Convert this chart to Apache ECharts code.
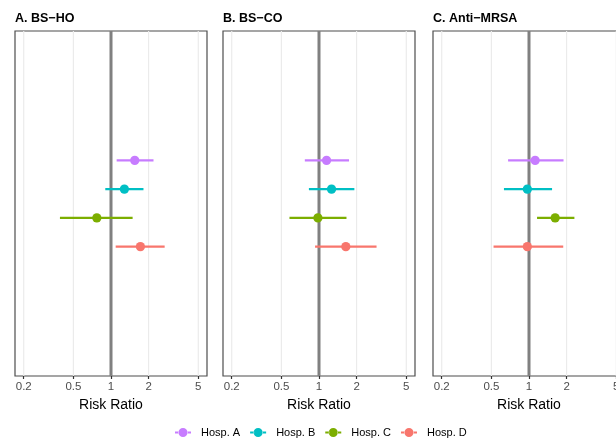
<!DOCTYPE html>
<html><head><meta charset="utf-8">
<script src="https://cdn.jsdelivr.net/npm/echarts@6/dist/echarts.min.js"></script>
<style>html,body{margin:0;padding:0;background:#fff}#c{width:616px;height:440px}</style>
</head><body><div id="c"></div>
<script>
const hospitals = ['Hosp. A', 'Hosp. B', 'Hosp. C', 'Hosp. D'];
const hospColors = ['#C77CFF', '#00BFC4', '#7CAE00', '#F8766D'];
const panelTitles = ['A. BS\u2212HO', 'B. BS\u2212CO', 'C. Anti\u2212MRSA'];
const xTicks = [0.2, 0.5, 1, 2, 5];
const refValue = 1;
const xName = 'Risk Ratio';

// Panel A: BS-HO
const bsho_est = [1.55, 1.28, 0.77, 1.72];
const bsho_lo  = [1.11, 0.90, 0.39, 1.09];
const bsho_hi  = [2.19, 1.82, 1.49, 2.69];
// Panel B: BS-CO
const bsco_est = [1.15, 1.26, 0.98, 1.64];
const bsco_lo  = [0.77, 0.83, 0.58, 0.93];
const bsco_hi  = [1.74, 1.92, 1.66, 2.89];
// Panel C: Anti-MRSA
const mrsa_est = [1.12, 0.97, 1.62, 0.97];
const mrsa_lo  = [0.68, 0.63, 1.16, 0.52];
const mrsa_hi  = [1.89, 1.53, 2.31, 1.88];

const panels = [
  {est: bsho_est, lo: bsho_lo, hi: bsho_hi},
  {est: bsco_est, lo: bsco_lo, hi: bsco_hi},
  {est: mrsa_est, lo: mrsa_lo, hi: mrsa_hi}
];

const FONT = '"Liberation Sans", Arial, sans-serif';
const gridLefts = [15, 223, 433];
const gridW = 192;
const expand = Math.pow(10, 0.05 * Math.log10(5 / 0.2));
const xMin = 0.2 / expand, xMax = 5 * expand;

const grids = [], xAxes = [], yAxes = [], series = [], titles = [];
panels.forEach((p, k) => {
  grids.push({left: gridLefts[k], width: gridW, top: 31, height: 345, show: true,
    outerBoundsMode: 'none', containLabel: false,
    borderColor: '#4D4D4D', borderWidth: 1.2, backgroundColor: 'transparent'});
  titles.push({text: panelTitles[k], left: gridLefts[k], top: 12, padding: 0,
    textStyle: {fontFamily: FONT, fontSize: 12.5, fontWeight: 'bold', color: '#000'}});
  xAxes.push({type: 'log', logBase: 10, gridIndex: k, min: xMin, max: xMax,
    name: xName, nameLocation: 'middle', nameGap: 19,
    nameTextStyle: {fontFamily: FONT, fontSize: 14, color: '#000', verticalAlign: 'top'},
    axisLine: {show: false, onZero: false},
    axisTick: {show: true, length: 3, customValues: xTicks, lineStyle: {color: '#333', width: 1.2}},
    axisLabel: {customValues: xTicks, fontFamily: FONT, fontSize: 11.5, color: '#4D4D4D', margin: 5,
      formatter: v => String(+(+v).toPrecision(3))},
    splitLine: {show: false}, minorTick: {show: false}});
  yAxes.push({type: 'value', gridIndex: k, min: -4.5, max: 7.5, inverse: true, show: false});
  // vertical grid lines at the breaks and the reference line
  series.push({type: 'custom', xAxisIndex: k, yAxisIndex: k, silent: true, z: 1,
    encode: {x: 0},
    data: xTicks.map(t => [t]),
    renderItem: (params, api) => {
      const v = api.value(0);
      const x = api.coord([v, 0])[0];
      const cs = params.coordSys;
      const isRef = v === refValue;
      return {type: 'line', shape: {x1: x, y1: cs.y, x2: x, y2: cs.y + cs.height},
        z2: isRef ? 2 : 1,
        style: {stroke: isRef ? '#808080' : '#EBEBEB', lineWidth: isRef ? 3 : 1.2}};
    }});
  hospitals.forEach((h, i) => {
    series.push({type: 'custom', name: h, xAxisIndex: k, yAxisIndex: k, z: 3,
      itemStyle: {color: hospColors[i]},
      encode: {x: [0, 1, 2], y: 3},
      data: [[p.est[i], p.lo[i], p.hi[i], i]],
      renderItem: (params, api) => {
        const c = api.coord([api.value(0), api.value(3)]);
        const a = api.coord([api.value(1), api.value(3)]);
        const b = api.coord([api.value(2), api.value(3)]);
        const col = api.visual('color');
        return {type: 'group', children: [
          {type: 'line', shape: {x1: a[0], y1: a[1], x2: b[0], y2: b[1]}, style: {stroke: col, lineWidth: 2.2}},
          {type: 'circle', shape: {cx: c[0], cy: c[1], r: 4.6}, style: {fill: col}}
        ]};
      }});
  });
});

const chart = echarts.init(document.getElementById('c'), null, {renderer: 'canvas'});
chart.setOption({
  animation: false,
  backgroundColor: '#fff',
  title: titles,
  grid: grids, xAxis: xAxes, yAxis: yAxes, series: series,
  legend: {data: hospitals, left: 175, top: 427, padding: 0, itemWidth: 16, itemHeight: 9, itemGap: 10,
    icon: 'path://M0,3.5h4v2h-4z M12,3.5h4v2h-4z M3.5,4.5a4.5,4.5 0 1,0 9,0a4.5,4.5 0 1,0 -9,0z',
    textStyle: {fontFamily: FONT, fontSize: 11, color: '#000', padding: [0, 0, 0, 5]}}
});
</script></body></html>
